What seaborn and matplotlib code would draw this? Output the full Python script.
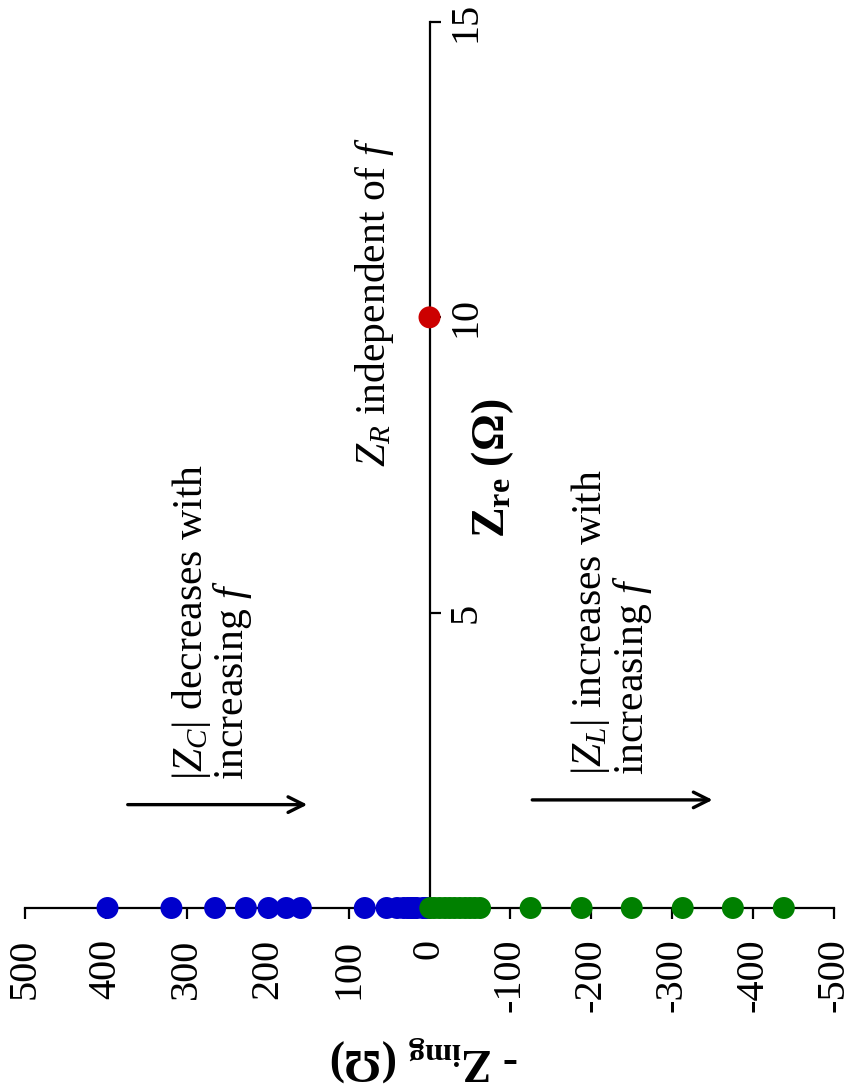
import matplotlib
matplotlib.use("Agg")
import matplotlib.pyplot as plt
import numpy as np
import pandas as pd
import seaborn as sns

# Nyquist-plane points for the three ideal circuit elements
cap_zimg = [398, 319, 265, 227, 199, 177, 159, 80, 53, 40, 32, 27, 23, 20, 18, 16, 8, 5, 4]
cap_zre = [0] * len(cap_zimg)
ind_zimg = [-1, -6, -12.5, -19, -25, -31, -37.5, -44, -50, -56, -62.5,
            -125, -188, -250, -313, -375, -438]
ind_zre = [0] * len(ind_zimg)
res_zimg = [0]
res_zre = [10]

zimg_ticks = [500, 400, 300, 200, 100, 0, -100, -200, -300, -400, -500]
zre_ticks = [5, 10, 15]

element_colors = {"C": "#0000CC", "L": "#008000", "R": "#CC0000"}

df = pd.concat([
    pd.DataFrame({"zimg": cap_zimg, "zre": cap_zre, "element": "C"}),
    pd.DataFrame({"zimg": ind_zimg, "zre": ind_zre, "element": "L"}),
    pd.DataFrame({"zimg": res_zimg, "zre": res_zre, "element": "R"}),
], ignore_index=True)

sns.set_theme(style="white")
plt.rcParams["font.family"] = ["Liberation Serif", "DejaVu Serif"]
plt.rcParams["mathtext.fontset"] = "custom"
plt.rcParams["mathtext.rm"] = "Liberation Serif"
plt.rcParams["mathtext.it"] = "Liberation Serif:italic"
plt.rcParams["mathtext.bf"] = "Liberation Serif:bold"
plt.rcParams["axes.unicode_minus"] = False
for key in ("text.color", "axes.labelcolor", "xtick.color", "ytick.color"):
    plt.rcParams[key] = "black"

FS = 30
TFS = 29
LFS = 33

fig = plt.figure(figsize=(8.51, 10.92), dpi=100)
ax = fig.add_axes([25 / 851, 1 - 908 / 1092, 809 / 851, 886 / 1092])

sns.scatterplot(data=df, x="zimg", y="zre", hue="element", palette=element_colors,
                s=250, linewidth=0, legend=False, clip_on=False, zorder=4, ax=ax)

ax.set_xlim(500, -500)
ax.set_ylim(0, 15)

# Spines: horizontal axis at the bottom, vertical axis through -Zimg = 0
ax.spines["top"].set_visible(False)
ax.spines["left"].set_visible(False)
ax.spines["right"].set_position(("data", 0))
for side in ("bottom", "right"):
    ax.spines[side].set_color("black")
    ax.spines[side].set_linewidth(1.6)

ax.yaxis.tick_right()
ax.set_xticks(zimg_ticks)
ax.set_xticklabels([str(t) for t in zimg_ticks], rotation=90, fontsize=TFS)
ax.set_yticks(zre_ticks)
ax.set_yticklabels([str(t) for t in zre_ticks], rotation=90, va="center", fontsize=TFS)
ax.tick_params(axis="x", direction="out", length=8, width=1.6, color="black",
               pad=14, bottom=True)
ax.tick_params(axis="y", direction="out", length=8, width=1.6, color="black",
               pad=5, right=True, left=False)

ax.set_xlabel(r"- $\mathbf{Z}_{\mathbf{img}}$ $\mathbf{(\Omega)}$", fontsize=LFS,
              fontweight="bold", rotation=180, ha="center", va="center")
ax.xaxis.set_label_coords(0.494, -0.170)

ax.set_ylabel(r"$\mathbf{Z}_{\mathbf{re}}$ $\mathbf{(\Omega)}$", fontsize=LFS,
              fontweight="bold", rotation=90)
ax.yaxis.set_label_position("right")
ax.yaxis.label.set_verticalalignment("center")
ax.yaxis.label.set_horizontalalignment("center")
ax.yaxis.set_label_coords(0.578, 0.496)

ax.text(68, 10.25, r"$Z_R$ independent of $f$", rotation=90, fontsize=FS,
        ha="center", va="center")
ax.text(269, 2.17, "$|Z_C|$ decreases with\nincreasing $f$", rotation=90,
        fontsize=FS, ha="center", va="bottom", multialignment="left",
        linespacing=0.95)
ax.text(-225, 2.25, "$|Z_L|$ increases with\nincreasing $f$", rotation=90,
        fontsize=FS, ha="center", va="bottom", multialignment="left",
        linespacing=0.95)

arrow_kw = dict(arrowstyle="->", color="black", lw=2.4, mutation_scale=28,
                shrinkA=0, shrinkB=0)
ax.annotate("", xy=(151, 1.75), xytext=(373, 1.75), arrowprops=arrow_kw)
ax.annotate("", xy=(-350, 1.83), xytext=(-127, 1.83), arrowprops=arrow_kw)

fig.savefig("out.png", dpi=100, facecolor="white")
